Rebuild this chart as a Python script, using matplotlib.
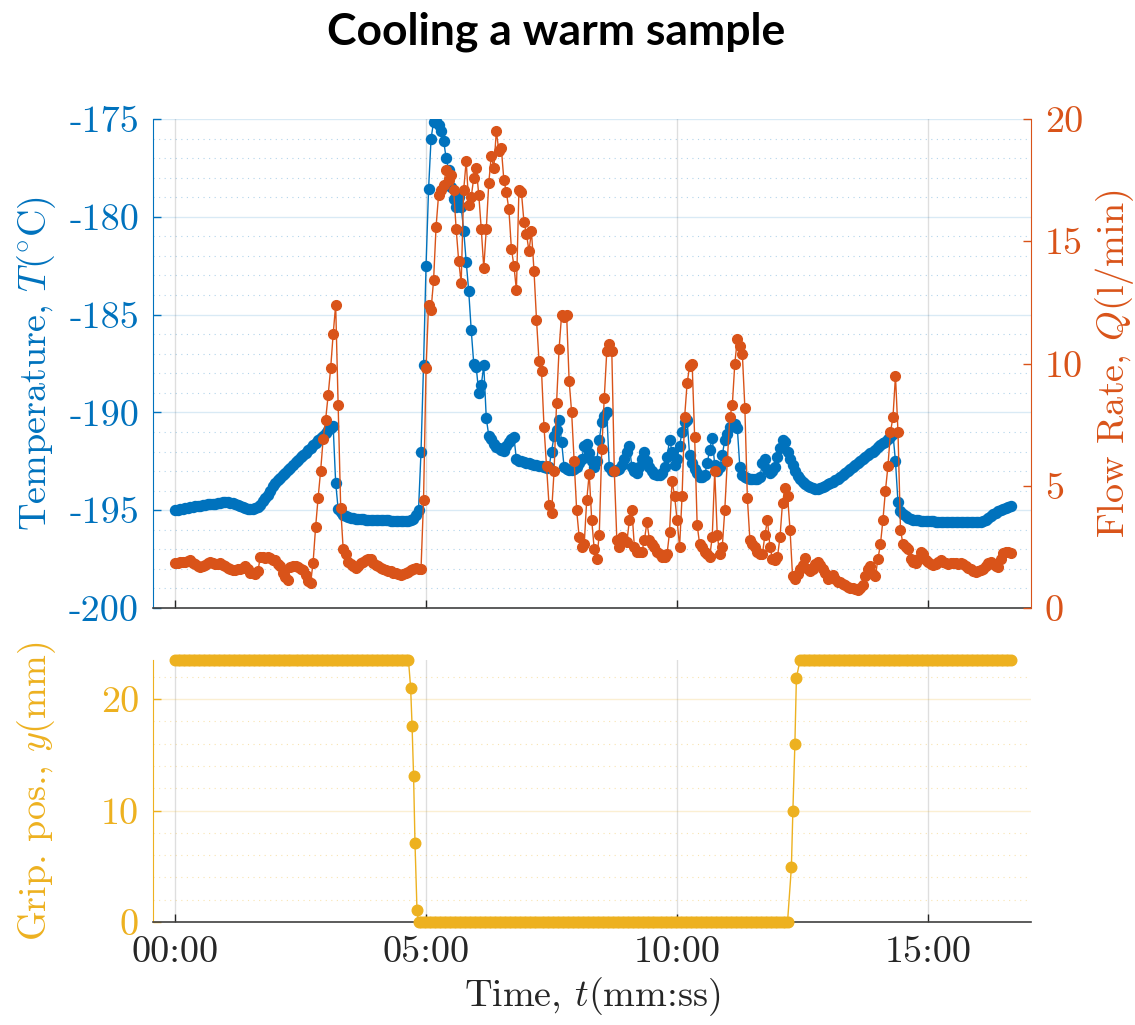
import matplotlib.pyplot as plt
import numpy as np
from matplotlib.ticker import MultipleLocator

plt.rcParams['font.family'] = 'cmr10'
plt.rcParams['mathtext.fontset'] = 'cm'
plt.rcParams['axes.unicode_minus'] = False

blue = '#0072BD'
orange = '#D95319'
yellow = '#EDB120'
dark = '#262626'

# one reading every 3 s
time_s = np.arange(0, 1000, 3)

# temperature T (degC), one row per minute
temperature = [
    -195.0, -195.0, -194.95, -194.95, -194.9, -194.9, -194.85, -194.85, -194.8, -194.8, -194.8, -194.75, -194.75, -194.7, -194.7, -194.7, -194.7, -194.65, -194.65, -194.6,
    -194.6, -194.6, -194.62, -194.65, -194.7, -194.75, -194.8, -194.85, -194.9, -194.95, -194.95, -194.95, -194.9, -194.85, -194.75, -194.55, -194.4, -194.2, -194.0, -193.75,
    -193.6, -193.45, -193.35, -193.2, -193.1, -192.95, -192.85, -192.7, -192.55, -192.45, -192.3, -192.2, -192.05, -191.9, -191.8, -191.65, -191.55, -191.4, -191.3, -191.2,
    -191.05, -190.9, -190.8, -190.7, -193.6, -194.95, -195.1, -195.25, -195.3, -195.35, -195.4, -195.4, -195.45, -195.45, -195.45, -195.45, -195.5, -195.5, -195.5, -195.5,
    -195.5, -195.5, -195.5, -195.5, -195.5, -195.5, -195.55, -195.55, -195.55, -195.55, -195.55, -195.55, -195.55, -195.55, -195.5, -195.45, -195.25, -195.0, -192.0, -187.6,
    -182.5, -178.6, -176.0, -175.15, -175.1, -175.3, -175.6, -176.1, -177.0, -177.6, -178.5, -179.1, -179.5, -179.0, -179.5, -180.7, -182.3, -183.8, -185.8, -187.5,
    -187.7, -189.0, -188.6, -187.6, -190.3, -191.2, -191.35, -191.6, -191.75, -191.8, -191.9, -191.95, -191.7, -191.5, -191.35, -191.25, -192.4, -192.5, -192.5, -192.55,
    -192.6, -192.6, -192.65, -192.7, -192.7, -192.75, -192.75, -192.8, -192.85, -192.8, -192.0, -191.2, -190.9, -190.4, -191.5, -192.8, -192.9, -192.95, -192.95, -192.9,
    -192.8, -192.6, -192.4, -191.7, -191.6, -192.1, -192.5, -192.8, -192.5, -191.4, -190.5, -190.2, -190.0, -192.8, -193.0, -193.0, -192.95, -192.9, -192.7, -192.4,
    -192.0, -191.7, -192.8, -193.0, -193.1, -192.8, -192.4, -192.0, -192.5, -192.8, -193.0, -193.15, -193.2, -193.2, -193.1, -192.8, -192.3, -191.4, -192.0, -192.7,
    -192.4, -191.7, -191.0, -190.5, -190.4, -192.2, -192.6, -192.9, -193.1, -193.3, -193.3, -193.2, -192.6, -191.9, -191.3, -192.7, -193.0, -192.8, -192.2, -191.4,
    -191.1, -190.75, -190.7, -190.6, -190.8, -192.8, -193.2, -193.3, -193.35, -193.4, -193.4, -193.4, -193.4, -193.3, -192.6, -192.4, -192.9, -193.1, -193.0, -192.8,
    -192.3, -191.8, -191.4, -191.5, -192.0, -192.4, -192.7, -193.0, -193.25, -193.4, -193.55, -193.65, -193.75, -193.8, -193.85, -193.9, -193.9, -193.85, -193.8, -193.75,
    -193.65, -193.6, -193.55, -193.45, -193.4, -193.3, -193.2, -193.1, -193.0, -192.9, -192.8, -192.7, -192.6, -192.5, -192.4, -192.3, -192.2, -192.1, -192.0, -191.9,
    -191.75, -191.65, -191.55, -191.5, -191.35, -191.25, -191.1, -192.5, -194.6, -195.05, -195.2, -195.3, -195.4, -195.45, -195.5, -195.5, -195.5, -195.55, -195.55, -195.55,
    -195.55, -195.55, -195.55, -195.6, -195.6, -195.6, -195.6, -195.6, -195.6, -195.6, -195.6, -195.6, -195.6, -195.6, -195.6, -195.6, -195.6, -195.6, -195.6, -195.6,
    -195.6, -195.6, -195.55, -195.5, -195.4, -195.3, -195.2, -195.12, -195.05, -194.98, -194.92, -194.87, -194.82, -194.78,
]

# flow rate Q (l/min)
flow_rate = [
    1.84, 1.86, 1.9, 1.88, 1.9, 1.94, 1.96, 1.85, 1.8, 1.72, 1.68, 1.7, 1.76, 1.85, 1.9, 1.85, 1.8, 1.82, 1.84, 1.78,
    1.72, 1.65, 1.6, 1.55, 1.55, 1.6, 1.6, 1.65, 1.7, 1.6, 1.45, 1.42, 1.4, 1.5, 2.09, 2.1, 2.05, 2.1, 2.05, 1.96,
    1.96, 1.8, 1.7, 1.45, 1.25, 1.15, 1.68, 1.72, 1.7, 1.68, 1.6, 1.55, 1.35, 1.1, 1.02, 1.85, 3.3, 4.5, 5.6, 6.9,
    7.7, 8.7, 9.8, 11.2, 12.4, 8.3, 4.1, 2.4, 2.2, 1.9, 1.8, 1.7, 1.64, 1.7, 1.84, 1.9, 1.95, 2.0, 2.0, 1.85,
    1.76, 1.7, 1.65, 1.6, 1.55, 1.5, 1.5, 1.45, 1.42, 1.38, 1.35, 1.38, 1.42, 1.47, 1.55, 1.6, 1.64, 1.6, 1.6, 4.4,
    9.8, 12.4, 12.2, 13.4, 15.6, 16.9, 17.1, 17.3, 17.9, 17.5, 17.7, 17.1, 15.5, 14.2, 13.3, 17.1, 18.3, 16.5, 16.8, 17.6,
    18.0, 16.9, 15.5, 13.9, 15.5, 17.4, 18.5, 18.0, 19.5, 18.7, 18.8, 17.5, 17.0, 16.3, 14.7, 14.0, 13.0, 17.1, 17.0, 15.8,
    15.3, 14.6, 15.4, 13.8, 11.8, 10.1, 9.7, 7.4, 5.8, 4.2, 3.9, 5.6, 8.4, 10.6, 12.0, 11.9, 12.0, 9.3, 8.0, 6.0,
    4.0, 2.9, 2.5, 2.6, 4.4, 5.5, 3.6, 2.4, 2.0, 3.0, 6.5, 8.6, 10.5, 10.8, 10.5, 5.6, 2.8, 2.5, 2.9, 2.8,
    2.7, 3.6, 4.0, 2.5, 2.3, 2.3, 2.3, 2.8, 3.5, 2.8, 2.6, 2.5, 2.3, 2.2, 2.1, 2.1, 2.2, 3.1, 5.2, 4.6,
    3.6, 2.5, 4.6, 7.8, 9.2, 9.9, 10.0, 7.0, 3.4, 2.6, 2.5, 2.3, 2.2, 2.1, 2.9, 5.6, 3.0, 2.2, 2.5, 4.0,
    6.0, 7.8, 8.3, 10.0, 11.0, 10.7, 10.4, 8.2, 4.5, 2.8, 2.6, 2.5, 2.3, 2.2, 2.2, 3.0, 3.6, 2.5, 2.0, 1.95,
    2.1, 2.9, 4.3, 4.9, 4.6, 3.2, 1.3, 1.2, 1.4, 1.6, 1.75, 2.05, 1.6, 1.5, 1.6, 1.8, 1.9, 1.75, 1.6, 1.45,
    1.2, 1.25, 1.35, 1.2, 1.08, 1.05, 1.0, 0.94, 0.88, 0.82, 0.8, 0.77, 0.74, 0.8, 0.95, 1.3, 1.6, 1.7, 1.4, 1.3,
    2.0, 2.6, 3.6, 4.8, 5.8, 7.2, 7.8, 9.5, 7.2, 3.2, 2.6, 2.5, 2.4, 2.0, 1.9, 1.85, 2.0, 2.3, 2.2, 1.95,
    1.9, 1.8, 1.76, 1.8, 1.9, 1.96, 1.9, 1.85, 1.8, 1.84, 1.84, 1.84, 1.8, 1.84, 1.8, 1.7, 1.65, 1.6, 1.5, 1.47,
    1.5, 1.55, 1.6, 1.7, 1.85, 1.9, 1.8, 1.7, 1.68, 2.0, 2.25, 2.3, 2.3, 2.25,
]

# gripper position y (mm)
grip_open = 23.5
grip_closed = 0.0
grip_close_t = [281.6, 283.3, 285.1, 286.8, 289.2]
grip_close_y = [21.0, 17.6, 13.1, 7.1, 1.05]
grip_open_t = [736.6, 738.4, 740.8, 742.6]
grip_open_y = [4.9, 10.0, 16.0, 21.9]

time_ticks = [0, 300, 600, 900]
time_labels = ['00:00', '05:00', '10:00', '15:00']
temp_ticks = [-200, -195, -190, -185, -180, -175]
flow_ticks = [0, 5, 10, 15, 20]
grip_ticks = [0, 10, 20]

t_a = time_s[time_s < 280]
t_b = time_s[(time_s > 290) & (time_s < 734)]
t_c = time_s[time_s > 745]
grip_t = np.concatenate([t_a, grip_close_t, t_b, grip_open_t, t_c])
grip_y = np.concatenate([np.full(len(t_a), grip_open), grip_close_y,
                         np.full(len(t_b), grip_closed), grip_open_y,
                         np.full(len(t_c), grip_open)])

fs = 27.5
fig = plt.figure(figsize=(11.35, 10.25), dpi=100)
ax1 = fig.add_axes([0.1348, 0.4068, 0.7736, 0.4771])
ax3 = fig.add_axes([0.1348, 0.1005, 0.7736, 0.2556])
ax2 = ax1.twinx()

ax1.plot(time_s, temperature, '-o', color=blue, lw=1.0, ms=7.2, zorder=3)
ax2.plot(time_s, flow_rate, '-o', color=orange, lw=1.0, ms=7.0, zorder=3)
ax3.plot(grip_t, grip_y, '-o', color=yellow, lw=1.0, ms=7.6, zorder=3, clip_on=False)

for ax in (ax1, ax2, ax3):
    ax.set_xlim(-26.3, 1023)
    ax.set_xticks(time_ticks)
    ax.spines['top'].set_visible(False)
    ax.tick_params(direction='in', length=6, width=1, labelsize=fs)
    ax.tick_params(axis='x', colors=dark, pad=10)
    ax.spines['bottom'].set_color('#404040')
    ax.spines['bottom'].set_linewidth(1.2)

ax1.set_ylim(-200, -175)
ax1.set_yticks(temp_ticks)
ax1.set_yticklabels([str(v) for v in temp_ticks])
ax1.yaxis.set_minor_locator(MultipleLocator(1))
ax1.tick_params(axis='y', which='both', colors=blue, pad=10)
ax1.tick_params(axis='y', which='minor', length=0)
ax1.tick_params(axis='x', labelbottom=False)
ax1.spines['left'].set_color(blue)
ax1.spines['right'].set_visible(False)
ax1.set_axisbelow(True)
ax1.grid(axis='x', color=dark, alpha=0.15, lw=1)
ax1.grid(axis='y', which='major', color=blue, alpha=0.15, lw=1)
ax1.grid(axis='y', which='minor', color=blue, alpha=0.3, lw=0.8, ls=(0, (1, 4)))
ax1.set_ylabel(r'Temperature, $T(^{\circ}\mathrm{C})$', color=blue, fontsize=fs)
ax1.yaxis.set_label_coords(-0.108, 0.5)

ax2.set_ylim(0, 20)
ax2.set_yticks(flow_ticks)
ax2.set_yticklabels([str(v) for v in flow_ticks])
ax2.tick_params(axis='y', colors=orange, pad=10)
ax2.tick_params(axis='x', labelbottom=False, length=0)
ax2.spines['right'].set_color(orange)
ax2.spines['left'].set_visible(False)
ax2.spines['bottom'].set_visible(False)
ax2.set_ylabel(r'Flow Rate, $Q(\mathrm{l/min})$', color=orange, fontsize=fs)
ax2.yaxis.set_label_coords(1.0706, 0.5)

ax3.set_ylim(0, 23.5)
ax3.set_yticks(grip_ticks)
ax3.set_yticklabels([str(v) for v in grip_ticks])
ax3.yaxis.set_minor_locator(MultipleLocator(2))
ax3.tick_params(axis='y', which='both', colors=yellow, pad=10)
ax3.tick_params(axis='y', which='minor', length=0)
ax3.set_xticklabels(time_labels)
ax3.spines['left'].set_color(yellow)
ax3.spines['right'].set_visible(False)
ax3.set_axisbelow(True)
ax3.grid(axis='x', color=dark, alpha=0.15, lw=1)
ax3.grid(axis='y', which='major', color=yellow, alpha=0.2, lw=1)
ax3.grid(axis='y', which='minor', color=yellow, alpha=0.35, lw=0.8, ls=(0, (1, 4)))
ax3.set_ylabel(r'Grip. pos., $y(\mathrm{mm})$', color=yellow, fontsize=fs)
ax3.yaxis.set_label_coords(-0.108, 0.5)
ax3.set_xlabel(r'Time, $t$(mm:ss)', color=dark, fontsize=fs)

fig.text(0.49, 0.969, 'Cooling a warm sample', ha='center', va='center',
         fontsize=32, fontweight='bold', family='Lato')

fig.savefig('out.png', dpi=100)
